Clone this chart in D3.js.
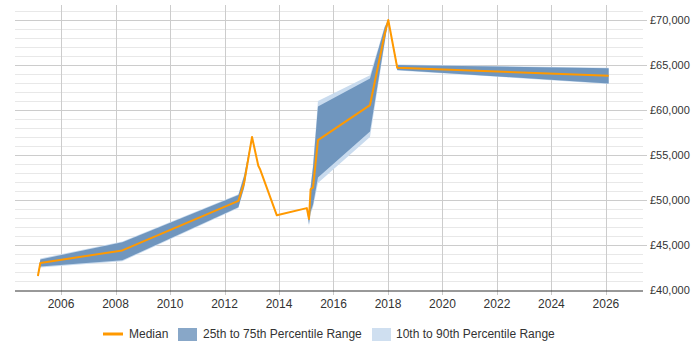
<!DOCTYPE html>
<html>
<head>
<meta charset="utf-8">
<script src="https://cdn.jsdelivr.net/npm/d3@7"></script>
<style>
  body { margin: 0; background: #fff; }
  text { font-family: "Liberation Sans", Arial, sans-serif; fill: #333; }
</style>
</head>
<body>
<svg id="chart"></svg>
<script>

// data (decimal years)
var years  = [2005.15, 2005.24, 2008.25, 2012.51, 2012.72, 2013.01, 2013.24, 2013.30, 2013.92, 2015.02, 2015.10, 2015.16, 2015.25, 2015.43, 2017.34, 2017.88, 2018.01, 2018.34, 2026.10];
var median = [41550, 43000, 44400, 49900, 51900, 57000, 53800, 53450, 48300, 49100, 47900, 51200, 51400, 56650, 60550, 68450, 70000, 64700, 63800];
var p25    = [41500, 42600, 43300, 49200, 51400, 56900, 53800, 53450, 48300, 49100, 47300, 48700, 49500, 52500, 57600, 67600, 70000, 64450, 62950];
var p75    = [41650, 43400, 45300, 50550, 52700, 57100, 53800, 53450, 48300, 49100, 48100, 51400, 53700, 60400, 63500, 69200, 70000, 65000, 64650];
var p10    = [41450, 42500, 43200, 49100, 51300, 56850, 53800, 53450, 48300, 49100, 47100, 48500, 49200, 51900, 57000, 67400, 70000, 64400, 62900];
var p90    = [41700, 43500, 45400, 50650, 52800, 57150, 53800, 53450, 48300, 49100, 48200, 51500, 54000, 61000, 63850, 69300, 70000, 65050, 64700];

var xTicks = [2006, 2008, 2010, 2012, 2014, 2016, 2018, 2020, 2022, 2024, 2026];
var yTicks = [40000, 45000, 50000, 55000, 60000, 65000, 70000];

var legendItems = ["Median", "25th to 75th Percentile Range", "10th to 90th Percentile Range"];

var width = 700, height = 350;
var plotLeft = 15, plotRight = 643, plotTop = 5, plotBottom = 290;

var svg = d3.select("#chart")
    .attr("width", width)
    .attr("height", height);

var data = years.map(function(yr, i) {
  return {x: yr, med: median[i], p25: p25[i], p75: p75[i], p10: p10[i], p90: p90[i]};
});

var x = d3.scaleLinear()
    .domain([2004.31, 2027.36])
    .range([plotLeft, plotRight]);

var y = d3.scaleLinear()
    .domain([40000, 71667])
    .range([plotBottom, plotTop]);

// minor horizontal grid, every 1000
svg.append("g")
  .selectAll("line")
  .data(d3.range(41000, 71001, 1000).filter(function(d) { return d % 5000 != 0; }))
  .enter()
  .append("line")
    .attr("x1", plotLeft)
    .attr("x2", plotRight)
    .attr("y1", function(d) { return Math.round(y(d)) + 0.5; })
    .attr("y2", function(d) { return Math.round(y(d)) + 0.5; })
    .style("stroke", "#e8e8e8");

// major horizontal grid
svg.append("g")
  .selectAll("line")
  .data(yTicks.slice(1))
  .enter()
  .append("line")
    .attr("x1", plotLeft)
    .attr("x2", plotRight + 4)
    .attr("y1", function(d) { return Math.round(y(d)) + 0.5; })
    .attr("y2", function(d) { return Math.round(y(d)) + 0.5; })
    .style("stroke", "#cccccc");

// vertical grid
svg.append("g")
  .selectAll("line")
  .data(xTicks)
  .enter()
  .append("line")
    .attr("x1", function(d) { return Math.round(x(d)) + 0.5; })
    .attr("x2", function(d) { return Math.round(x(d)) + 0.5; })
    .attr("y1", plotTop)
    .attr("y2", plotBottom + 5)
    .style("stroke", "#cccccc");

// bands
var area90 = d3.area()
    .x(function(d) { return x(d.x); })
    .y0(function(d) { return y(d.p10); })
    .y1(function(d) { return y(d.p90); });

var area75 = d3.area()
    .x(function(d) { return x(d.x); })
    .y0(function(d) { return y(d.p25); })
    .y1(function(d) { return y(d.p75); });

svg.append("path")
    .datum(data)
    .attr("d", area90)
    .style("fill", "#c9dbee");

svg.append("path")
    .datum(data)
    .attr("d", area75)
    .style("fill", "#7096be");

// median line
var line = d3.line()
    .x(function(d) { return x(d.x); })
    .y(function(d) { return y(d.med); });

svg.append("path")
    .datum(data)
    .attr("d", line)
    .style("fill", "none")
    .style("stroke", "#ff9900")
    .style("stroke-width", 2)
    .style("stroke-linejoin", "round");

// bottom axis line
svg.append("line")
    .attr("x1", plotLeft)
    .attr("x2", plotRight)
    .attr("y1", plotBottom + 1)
    .attr("y2", plotBottom + 1)
    .style("stroke", "#333")
    .style("stroke-width", 1);

// x labels
svg.append("g")
  .selectAll("text")
  .data(xTicks)
  .enter()
  .append("text")
    .attr("x", function(d) { return x(d); })
    .attr("y", 308)
    .attr("text-anchor", "middle")
    .style("font-size", "12px")
    .text(function(d) { return d; });

// y labels on the right
var fmt = d3.format(",");
svg.append("g")
  .selectAll("text")
  .data(yTicks)
  .enter()
  .append("text")
    .attr("x", 650)
    .attr("y", function(d) { return y(d); })
    .attr("dy", "0.35em")
    .style("font-size", "11px")
    .text(function(d) { return "£" + fmt(d); });

// legend
var lg = svg.append("g");

lg.append("line")
    .attr("x1", 103).attr("x2", 123)
    .attr("y1", 334).attr("y2", 334)
    .style("stroke", "#ff9900")
    .style("stroke-width", 3);

lg.append("text")
    .attr("x", 129).attr("y", 338)
    .style("font-size", "12px")
    .text(legendItems[0]);

lg.append("rect")
    .attr("x", 178).attr("y", 328)
    .attr("width", 19).attr("height", 13)
    .style("fill", "#88a7c8");

lg.append("text")
    .attr("x", 203).attr("y", 338)
    .style("font-size", "12px")
    .text(legendItems[1]);

lg.append("rect")
    .attr("x", 372).attr("y", 328)
    .attr("width", 19).attr("height", 13)
    .style("fill", "#cfdff0");

lg.append("text")
    .attr("x", 396).attr("y", 338)
    .style("font-size", "12px")
    .text(legendItems[2]);

</script>
</body>
</html>
